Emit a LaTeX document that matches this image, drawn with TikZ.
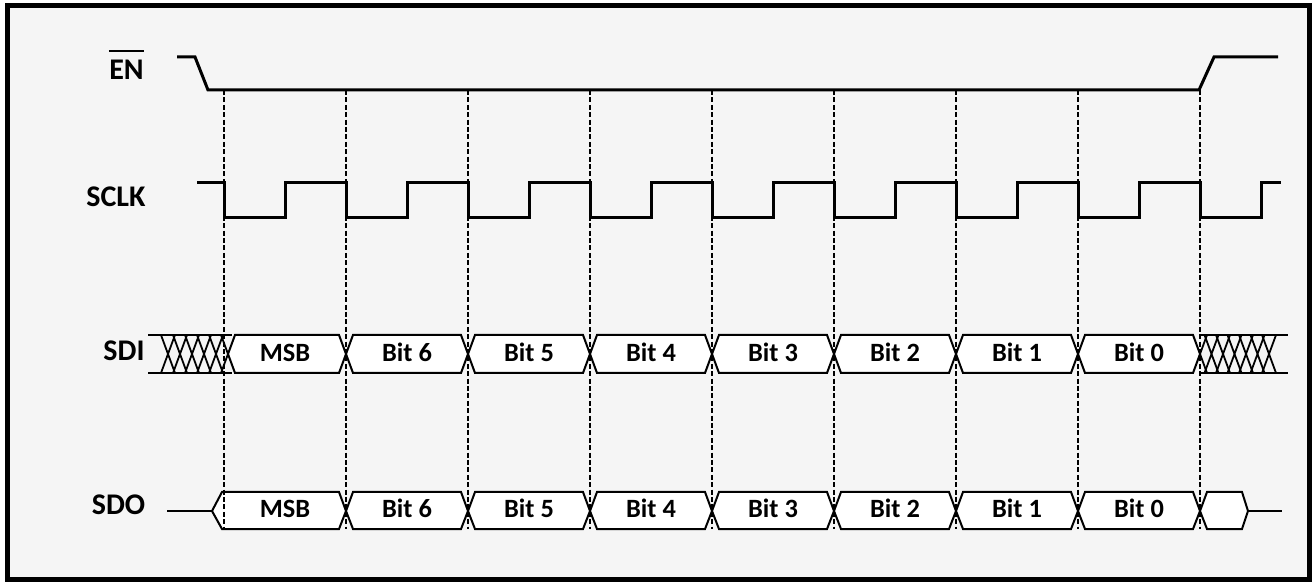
\documentclass[tikz,border=0pt]{standalone}
\usepackage{fontspec}
\setmainfont{Carlito}
\definecolor{panel}{RGB}{245,245,245}
\begin{document}
\begin{tikzpicture}[x=0.5pt,y=-0.5pt,
  sig/.style={line width=1.5pt},
  bus/.style={line width=1pt, fill=white, line join=miter},
  stub/.style={line width=1pt},
  guide/.style={line width=0.6pt, dash pattern=on 2.5pt off 1.2pt},
  hatch/.style={line width=0.9pt},
  lbl/.style={font=\fontsize{15}{17}\selectfont\bfseries, inner sep=0pt, anchor=base},
  btxt/.style={font=\fontsize{13.2}{15}\selectfont\bfseries, inner sep=0pt, anchor=base}]
\useasboundingbox (0,0) rectangle (1312,582);
% frame
\draw[line width=2.25pt, fill=panel] (7.5,5.5) rectangle (1309.5,579.5);

% signal labels
\node[lbl] (en) at (126.5,80) {EN};
\draw[line width=0.8pt] ([yshift=4.5pt]en.north west) -- ([yshift=4.5pt]en.north east);
\node[lbl] (sclk) at (116,207) {SCLK};
\node[lbl] (sdi) at (124,361) {SDI};
\node[lbl] (sdo) at (118.5,515) {SDO};

% EN waveform
\draw[sig] (177,57) -- (195,57) -- (208,90) -- (1199,90) -- (1214,57) -- (1278,57);

% SCLK waveform
\draw[sig] (197,183)
  \foreach \b in {224,346,...,1078} { -- (\b,183) -- (\b,218) -- (\b+61,218) -- (\b+61,183) }
  -- (1200,183) -- (1200,218) -- (1261,218) -- (1261,183) -- (1281,183);

% SDI left hatch
\draw[hatch] (148,335) -- (232,335) (148,373) -- (232,373);
\foreach \c in {168,180,...,216}
  \draw[hatch] (\c-7,335) -- (\c+7,373) (\c-7,373) -- (\c+7,335);
\draw[hatch] (221,335) -- (228,354) -- (221,373);
% SDI right hatch
\draw[hatch] (1200,335) -- (1288,335) (1200,373) -- (1288,373);
\foreach \c in {1211.5,1223,...,1270}
  \draw[hatch] (\c-7,335) -- (\c+7,373) (\c-7,373) -- (\c+7,335);

% SDI segments
\draw[bus] (228,354) -- (235,335) -- (339,335) -- (346,354) -- (339,373) -- (235,373) -- cycle;
\foreach \b in {346,468,...,1078}
  \draw[bus] (\b,354) -- (\b+7,335) -- (\b+115,335) -- (\b+122,354) -- (\b+115,373) -- (\b+7,373) -- cycle;
\draw[hatch] (1207,373) -- (1200,354) -- (1207,335);

% SDO segments
\draw[stub] (167,511) -- (212,511);
\draw[bus] (212,511) -- (222,492) -- (339,492) -- (346,511) -- (339,529) -- (222,529) -- cycle;
\foreach \b in {346,468,...,1078}
  \draw[bus] (\b,511) -- (\b+7,492) -- (\b+115,492) -- (\b+122,511) -- (\b+115,529) -- (\b+7,529) -- cycle;
\draw[bus] (1200,511) -- (1207,492) -- (1242,492) -- (1248,511) -- (1242,529) -- (1207,529) -- cycle;
\draw[stub] (1248,511) -- (1282,511);

% bus texts
\foreach \t [count=\i from 0] in {MSB,Bit 6,Bit 5,Bit 4,Bit 3,Bit 2,Bit 1,Bit 0} {
  \node[btxt] (sdi-\i) at ({285+122*\i},362) {\t};
  \node[btxt] (sdo-\i) at ({285+122*\i},517) {\t};
}

% timing guides
\foreach \b in {224,346,...,1200}
  \draw[guide] (\b,90) -- (\b,529);
\end{tikzpicture}
\end{document}
